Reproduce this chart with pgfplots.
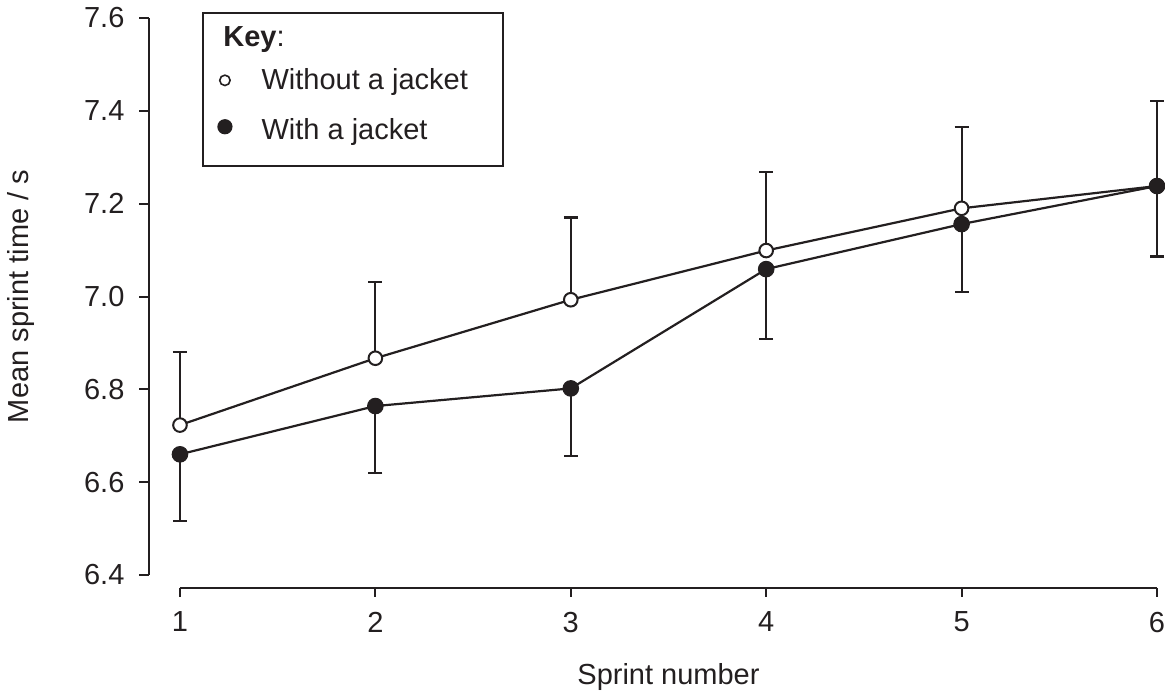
\documentclass[border=0pt]{standalone}
\usepackage{pgfplots}
\pgfplotsset{compat=1.18}
\usepackage{fontspec}
\setmainfont{Liberation Sans}
\definecolor{ink}{RGB}{35,31,32}
\newcommand{\fs}{\fontsize{14.5pt}{17pt}\selectfont}
\begin{document}
\begin{tikzpicture}
\begin{axis}[
  scale only axis, width=488.5pt, height=278.5pt,
  xmin=1, xmax=6, ymin=6.4, ymax=7.6,
  axis lines=left,
  axis line style={-, line width=1pt, draw=ink},
  axis x line shift=6.35pt, axis y line shift=15.65pt,
  xtick={1,2,3,4,5,6},
  ytick={6.4,6.6,6.8,7.0,7.2,7.4,7.6},
  tick align=outside, major tick length=4.6pt,
  tick style={line width=1pt, draw=ink},
  /pgf/number format/assume math mode=true,
  ticklabel style={font=\fs, text=ink},
  yticklabel style={xshift=-4pt, /pgf/number format/.cd, fixed, fixed zerofill, precision=1},
  xticklabel style={yshift=-4pt},
  label style={font=\fs, text=ink},
  xlabel={Sprint number}, ylabel={Mean sprint time / s},
  xlabel style={at={(axis description cs:0.5,-0.1831)}, anchor=center},
  ylabel style={at={(axis description cs:-0.1627,0.5)}, anchor=center},
  clip=false,
  legend cell align=left,
  legend style={at={(axis description cs:0.0235,1.0108)}, anchor=north west,
    draw=none, fill=none, font=\fs, text=ink,
    inner xsep=7pt, inner ysep=5pt, row sep=5.5pt, column sep=12.5pt},
]
\addlegendimage{legend image code/.code={
  \draw[overlay, ink, line width=1pt] (-11pt,12.5pt) rectangle (139pt,-64pt);
  \node[overlay, anchor=west, inner sep=0pt, font=\fs, text=ink] at (-1pt,0pt) {\textbf{Key}:};}}
\addlegendentry{\vphantom{K}}

\addplot[ink, line width=1.1pt, mark=*, mark size=3.4pt,
  mark options={fill=white, draw=ink, line width=1pt},
  legend image code/.code={
    \draw[ink, fill=white, line width=0.8pt] (0pt,0pt) circle (2.6pt);},
  error bars/.cd, y dir=plus, y explicit,
  error bar style={line width=1.1pt, draw=ink},
  error mark options={rotate=90, mark size=3.5pt, line width=1.1pt, draw=ink}]
coordinates {
  (1,6.723) +- (0,0.157)
  (2,6.867) +- (0,0.165)
  (3,6.993) +- (0,0.177)
  (4,7.099) +- (0,0.170)
  (5,7.190) +- (0,0.176)
  (6,7.238) +- (0,0.183)
};
\addlegendentry{Without a jacket}

\addplot[ink, line width=1.1pt, mark=*, mark size=3.9pt,
  mark options={fill=ink, draw=ink, line width=0.5pt},
  legend image code/.code={
    \fill[ink] (0pt,0pt) circle (3.25pt);},
  error bars/.cd, y dir=minus, y explicit,
  error bar style={line width=1.1pt, draw=ink},
  error mark options={rotate=90, mark size=3.5pt, line width=1.1pt, draw=ink}]
coordinates {
  (1,6.660) +- (0,0.143)
  (2,6.764) +- (0,0.145)
  (3,6.802) +- (0,0.145)
  (4,7.059) +- (0,0.151)
  (5,7.156) +- (0,0.146)
  (6,7.238) +- (0,0.152)
};
\addlegendentry{\rule{0pt}{13.9pt}With a jacket}

\coordinate (bl) at (rel axis cs:-0.1842,-0.2118);
\coordinate (tr) at (rel axis cs:1.0082,1.0323);
\end{axis}
\pgfresetboundingbox
\path[use as bounding box] (bl) rectangle (tr);
\end{tikzpicture}
\end{document}
